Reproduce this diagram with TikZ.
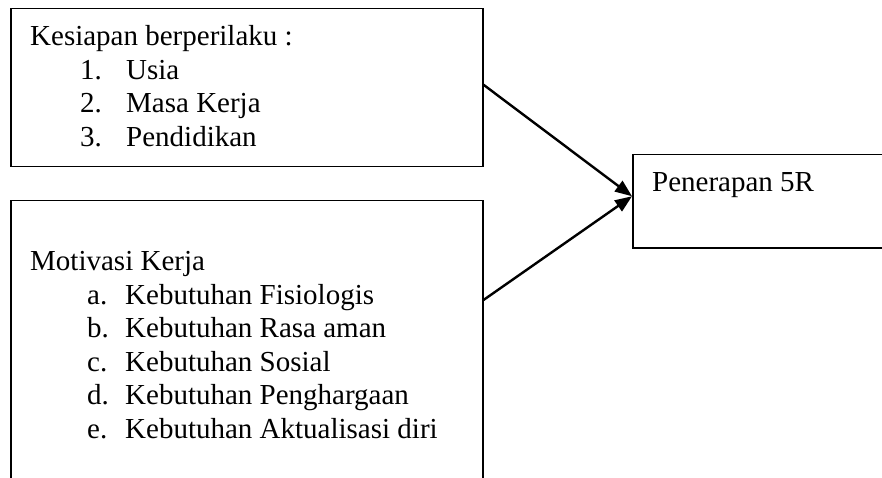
\documentclass[tikz,border=0pt]{standalone}
\usepackage{fontspec}
\setmainfont{Liberation Serif}
\usetikzlibrary{arrows.meta}
\begin{document}
\begin{tikzpicture}[x=1pt,y=-1pt,
  box/.style={draw=black, line width=1.5pt, rectangle, inner sep=0pt, anchor=north west},
  txt/.style={anchor=base west, inner sep=0pt, font=\fontsize{29}{34}\selectfont},
  arr/.style={draw=black, line width=2.4pt, -{Triangle[length=17pt,width=13pt]}}]
\useasboundingbox (0,0) rectangle (882,478);
\clip (0,0) rectangle (882,478);
\fill[white] (0,0) rectangle (882,478);
% boxes
\node[box, minimum width=472pt, minimum height=158pt] (b1) at (10,8) {};
\node[box, minimum width=472pt, minimum height=300pt] (b2) at (10,200) {};
\node[box, minimum width=260pt, minimum height=93pt] (b3) at (632,154) {};
% box 1 text
\node[txt] (t1) at (30,46) {Kesiapan berperilaku :};
\node[txt] (n1) at (80,80) {1.};
\node[txt] (i1) at (126,80) {Usia};
\node[txt] (n2) at (80,113) {2.};
\node[txt] (i2) at (126,113) {Masa Kerja};
\node[txt] (n3) at (80,147) {3.};
\node[txt] (i3) at (126,147) {Pendidikan};
% box 2 text
\node[txt] (t2) at (30,270) {Motivasi Kerja};
\node[txt] (la) at (87,304) {a.};
\node[txt] (ja) at (125,304) {Kebutuhan Fisiologis};
\node[txt] (lb) at (87,337) {b.};
\node[txt] (jb) at (125,337) {Kebutuhan Rasa aman};
\node[txt] (lc) at (87,371) {c.};
\node[txt] (jc) at (125,371) {Kebutuhan Sosial};
\node[txt] (ld) at (87,404) {d.};
\node[txt] (jd) at (125,404) {Kebutuhan Penghargaan};
\node[txt] (le) at (87,438) {e.};
\node[txt] (je) at (125,438) {Kebutuhan Aktualisasi diri};
% box 3 text
\node[txt] (t3) at (652,192) {Penerapan 5R};
% connectors
\draw[arr] ([yshift=3pt]b1.east) -- ([yshift=5pt]b3.west);
\draw[arr] ([yshift=-100pt]b2.north east) -- ([yshift=5pt]b3.west);
\end{tikzpicture}
\end{document}
